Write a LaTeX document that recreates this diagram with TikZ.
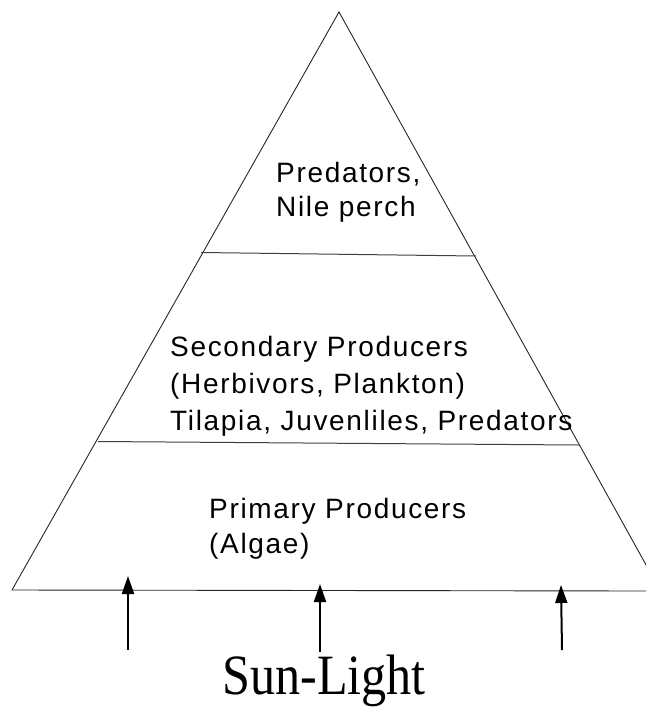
\documentclass[tikz,border=0pt]{standalone}
\usepackage{fontspec}
\usetikzlibrary{arrows.meta}
\newfontfamily\labfont{Liberation Sans}[LetterSpace=6]
\newfontfamily\sunfont{Liberation Serif}
\begin{document}
\begin{tikzpicture}[x=1pt,y=-1pt,
  edge/.style={line width=0.9pt,draw=black!85},
  divider/.style={line width=1pt,draw=black!75},
  lab/.style={anchor=base west,inner sep=0pt,font=\labfont\fontsize{28}{33}\selectfont},
  sunarrow/.style={line width=2pt,-{Triangle[length=18pt,width=12pt]}}]
\useasboundingbox (0,0) rectangle (646,710);
\begin{scope}
\clip (0,0) rectangle (646,710);
% pyramid vertices
\coordinate (apex) at (339,12);
\coordinate (bl) at (12,590);
\coordinate (br) at (660,590);
\coordinate (be) at (646,591);
\draw[edge] (bl) -- (apex) -- (br);
\draw[edge] (bl) -- (be);
% dividers
\coordinate (d1l) at (201,252.5);
\coordinate (d1r) at (476,256);
\coordinate (d2l) at (98,441.5);
\coordinate (d2r) at (579,445);
\draw[divider] (d1l) -- (d1r);
\draw[divider] (d2l) -- (d2r);
\end{scope}
% labels
\node[lab] (pred1) at (276,182) {Predators,};
\node[lab] (pred2) at (276,216) {Nile perch};
\node[lab] (sec1) at (170,356) {Secondary Producers};
\node[lab] (sec2) at (170,393) {(Herbivors, Plankton)};
\node[lab] (sec3) at (170,430) {Tilapia, Juvenliles, Predators};
\node[lab] (pri1) at (209,518) {Primary Producers};
\node[lab] (pri2) at (209,553) {(Algae)};
% sun arrows
\coordinate (t1) at (128,650);
\coordinate (h1) at (128,576);
\coordinate (t2) at (320,652);
\coordinate (h2) at (320,584);
\coordinate (t3) at (562,650);
\coordinate (h3) at (561,585);
\draw[sunarrow] (t1) -- (h1);
\draw[sunarrow] (t2) -- (h2);
\draw[sunarrow] (t3) -- (h3);
\node[anchor=base,inner sep=0pt,font=\sunfont\fontsize{57}{66}\selectfont] (sun) at (324,694) {\scalebox{0.88}[1]{Sun-Light}};
\end{tikzpicture}
\end{document}
